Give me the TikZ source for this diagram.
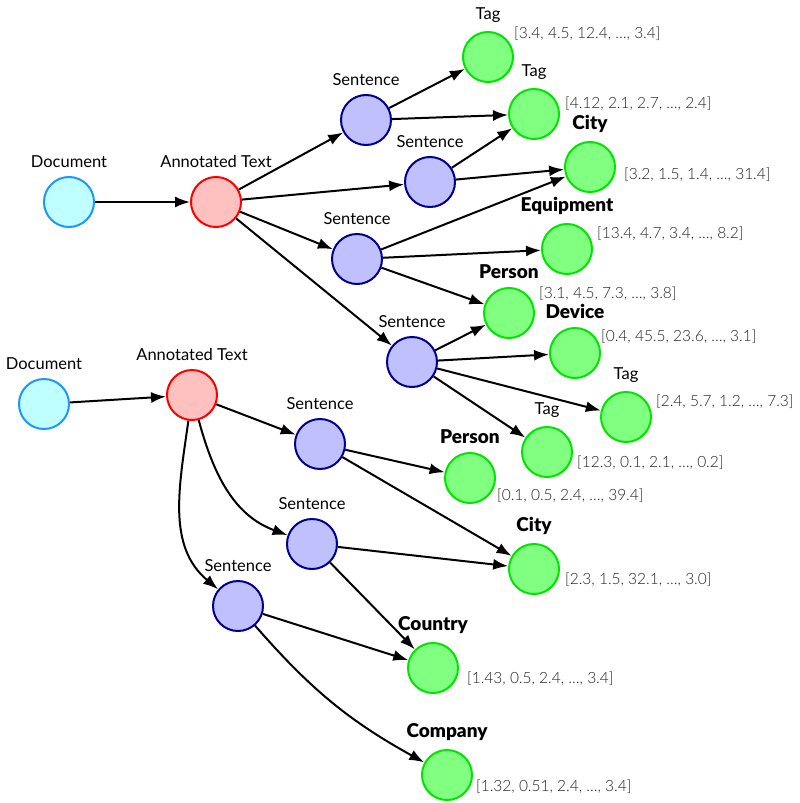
\documentclass[tikz,border=0pt]{standalone}
\usepackage{fontspec}
\setmainfont{Lato}
\newfontfamily\vecfont{Lato Light}
\newfontfamily\heavyfont{Lato Black}
\usepackage{tikz}
\usetikzlibrary{arrows.meta}
\usetikzlibrary{positioning}
\definecolor{docfill}{RGB}{192,255,255}
\definecolor{docline}{RGB}{30,150,255}
\definecolor{annfill}{RGB}{255,192,192}
\definecolor{annline}{RGB}{255,0,0}
\definecolor{sentfill}{RGB}{192,192,255}
\definecolor{sentline}{RGB}{0,0,140}
\definecolor{entfill}{RGB}{128,255,128}
\definecolor{entline}{RGB}{0,228,0}
\definecolor{vecgrey}{RGB}{35,35,35}
\tikzstyle{every node}+=[inner sep=0pt]
\tikzstyle{circ} = [circle, line width=2pt, minimum size=50pt]
\tikzstyle{doc} = [circ, draw=docline, fill=docfill]
\tikzstyle{ann} = [circ, draw=annline, fill=annfill]
\tikzstyle{sent} = [circ, draw=sentline, fill=sentfill]
\tikzstyle{ent} = [circ, draw=entline, fill=entfill]
\tikzstyle{entlabel} = [font=\heavyfont\fontsize{19}{22}\selectfont]
\tikzstyle{line} = [draw, line width=2pt, -{Latex[length=15pt, width=11pt]}]
\tikzstyle{value} = [font=\vecfont\fontsize{15.5}{18}\selectfont, text=vecgrey]

\begin{document}
\begin{tikzpicture}[x=1pt, y=-1pt, every label/.style={font=\fontsize{16.5}{19}\selectfont}, label distance=8pt]
          \useasboundingbox (0,0) rectangle (800,803);
          % Place nodes (first document)
          \node [doc, label=above:Document] (doca) at (69,202) {};
          \node [ann, label=above:Annotated Text] (anna) at (216,202) {};
          \node [sent, label=above:Sentence] (sa) at (366,120) {};
          \node [sent, label=above:Sentence] (sb) at (430,182) {};
          \node [sent, label=above:Sentence] (sc) at (357,259) {};
          \node [sent, label=above:Sentence] (sd) at (412,362) {};
          \node [ent, label=above:Tag] (taga) at (488,57) {};
          \node [value, right=0pt of taga, yshift=23pt] (va) {[3.4, 4.5, 12.4, \dots, 3.4]};
          \node [ent, label=above:Tag] (tagb) at (534,114) {};
          \node [value, right=5pt of tagb, yshift=10pt] (vb) {[4.12, 2.1, 2.7, \dots, 2.4]};
          \node [ent, label={[entlabel]above:City}] (citya) at (590,167) {};
          \node [value, right=8pt of citya, yshift=-8pt] (vc) {[3.2, 1.5, 1.4, \dots, 31.4]};
          \node [ent, label={[entlabel]above:Equipment}] (equip) at (567,249) {};
          \node [value, right=4pt of equip, yshift=15pt] (vd) {[13.4, 4.7, 3.4, \dots, 8.2]};
          \node [ent, label={[entlabel]above:Person}] (persona) at (509,313) {};
          \node [value, right=4pt of persona, yshift=19pt] (ve) {[3.1, 4.5, 7.3, \dots, 3.8]};
          \node [ent, label={[entlabel]above:Device}] (device) at (575,353) {};
          \node [value, right=0pt of device, yshift=16pt] (vf) {[0.4, 45.5, 23.6, \dots, 3.1]};
          \node [ent, label=above:Tag] (tagc) at (626,417) {};
          \node [value, right=4pt of tagc, yshift=15pt] (vg) {[2.4, 5.7, 1.2, \dots, 7.3]};
          \node [ent, label=above:Tag] (tagd) at (547,452) {};
          \node [value, right=4pt of tagd, yshift=-11pt] (vh) {[12.3, 0.1, 2.1, \dots, 0.2]};
          % Place nodes (second document)
          \node [doc, label=above:Document] (docb) at (44,404) {};
          \node [ann, label=above:Annotated Text] (annb) at (192,395) {};
          \node [sent, label=above:Sentence] (se) at (320,444) {};
          \node [sent, label=above:Sentence] (sf) at (312,544) {};
          \node [sent, label=above:Sentence] (sg) at (238,606) {};
          \node [ent, label={[entlabel]above:Person}] (personb) at (470,478) {};
          \node [value, right=1pt of personb, yshift=-18pt] (vi) {[0.1, 0.5, 2.4, \dots, 39.4]};
          \node [ent, label={[entlabel]above:City}] (cityb) at (534,569) {};
          \node [value, right=5pt of cityb, yshift=-11pt] (vj) {[2.3, 1.5, 32.1, \dots, 3.0]};
          \node [ent, label={[entlabel]above:Country}] (country) at (433,668) {};
          \node [value, right=8pt of country, yshift=-11pt] (vk) {[1.43, 0.5, 2.4, \dots, 3.4]};
          \node [ent, label={[entlabel]above:Company}] (company) at (447,775) {};
          \node [value, right=3pt of company, yshift=-12pt] (vl) {[1.32, 0.51, 2.4, \dots, 3.4]};
          % Draw edges
          \path [line] (doca) -- (anna);
          \path [line] (anna) -- (sa);
          \path [line] (anna) -- (sb);
          \path [line] (anna) -- (sc);
          \path [line] (anna) -- (sd);
          \path [line] (sa) -- (taga);
          \path [line] (sa) -- (tagb);
          \path [line] (sb) -- (tagb);
          \path [line] (sb) -- (citya);
          \path [line] (sc) -- (citya);
          \path [line] (sc) -- (equip);
          \path [line] (sc) -- (persona);
          \path [line] (sd) -- (persona);
          \path [line] (sd) -- (device);
          \path [line] (sd) -- (tagc);
          \path [line] (sd) -- (tagd);
          \path [line] (docb) -- (annb);
          \path [line] (annb) -- (se);
          \path [line] (annb) to[out=-75, in=160] (sf);
          \path [line] (annb) to[out=-98, in=140] (sg);
          \path [line] (se) -- (personb);
          \path [line] (se) -- (cityb);
          \path [line] (sf) -- (cityb);
          \path [line] (sf) -- (country);
          \path [line] (sg) -- (country);
          \path [line] (sg) to[bend right=10] (company);
        \end{tikzpicture}
\end{document}
